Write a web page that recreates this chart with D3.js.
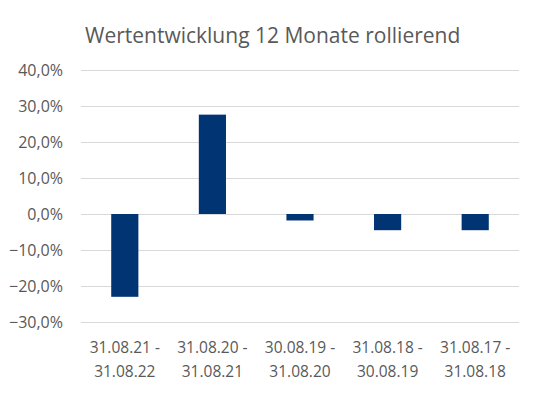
<!DOCTYPE html>
<html>
<head>
<meta charset="utf-8">
<script src="https://cdn.jsdelivr.net/npm/d3@7"></script>
<style>
  body { margin: 0; background: #fff; }
  text { font-family: "Open Sans", "Noto Sans", sans-serif; fill: #595959; }
</style>
</head>
<body>
<div id="chart-area"></div>
<script>
const categories = [
    ["31.08.21 -", "31.08.22"],
    ["31.08.20 -", "31.08.21"],
    ["30.08.19 -", "31.08.20"],
    ["31.08.18 -", "30.08.19"],
    ["31.08.17 -", "31.08.18"]
];
const values = [-23.0, 27.6, -1.8, -4.5, -4.5];
const yTicks = [-30, -20, -10, 0, 10, 20, 30, 40];
const title = "Wertentwicklung 12 Monate rollierend";

const width = 540;
const height = 394;
const margin = { top: 70, right: 21, bottom: 72, left: 81 };

const svg = d3.select("#chart-area")
    .append("svg")
        .attr("width", width)
        .attr("height", height);

const x = d3.scaleBand()
    .domain(d3.range(categories.length))
    .range([margin.left, width - margin.right])
    .paddingInner(0.69)
    .paddingOuter(0.345);

const y = d3.scaleLinear()
    .domain([-30, 40])
    .range([height - margin.bottom, margin.top]);

// title
svg.append("text")
    .attr("x", 85)
    .attr("y", 43)
    .style("font-size", "21px")
    .text(title);

// grid lines + y labels
const yAxis = d3.axisLeft(y)
    .tickValues(yTicks)
    .tickSize(-(width - margin.left - margin.right))
    .tickPadding(18)
    .tickFormat(d => d3.format(".1f")(d).replace(".", ",") + "%");

svg.append("g")
    .attr("transform", `translate(${margin.left},0)`)
    .call(yAxis)
    .call(g => g.select(".domain").remove())
    .call(g => g.selectAll("line").attr("stroke", "#d9d9d9").attr("stroke-width", 1))
    .call(g => g.selectAll("text")
        .style("font-size", "16px")
        .attr("fill", "#595959"));

// bars
svg.selectAll("rect.bar")
    .data(values)
    .enter()
    .append("rect")
        .attr("class", "bar")
        .attr("x", (d, i) => x(i))
        .attr("width", x.bandwidth())
        .attr("y", d => y(Math.max(0, d)))
        .attr("height", d => Math.abs(y(d) - y(0)))
        .attr("fill", "#003473");

// category labels, two lines each
const labels = svg.selectAll("text.cat")
    .data(categories)
    .enter()
    .append("text")
        .attr("class", "cat")
        .attr("text-anchor", "middle")
        .style("font-size", "15.5px");

labels.each(function(d, i) {
    d3.select(this).selectAll("tspan")
        .data(d)
        .enter()
        .append("tspan")
            .attr("x", x(i) + x.bandwidth() / 2)
            .attr("y", (t, j) => 353 + j * 24)
            .text(t => t);
});
</script>
</body>
</html>
